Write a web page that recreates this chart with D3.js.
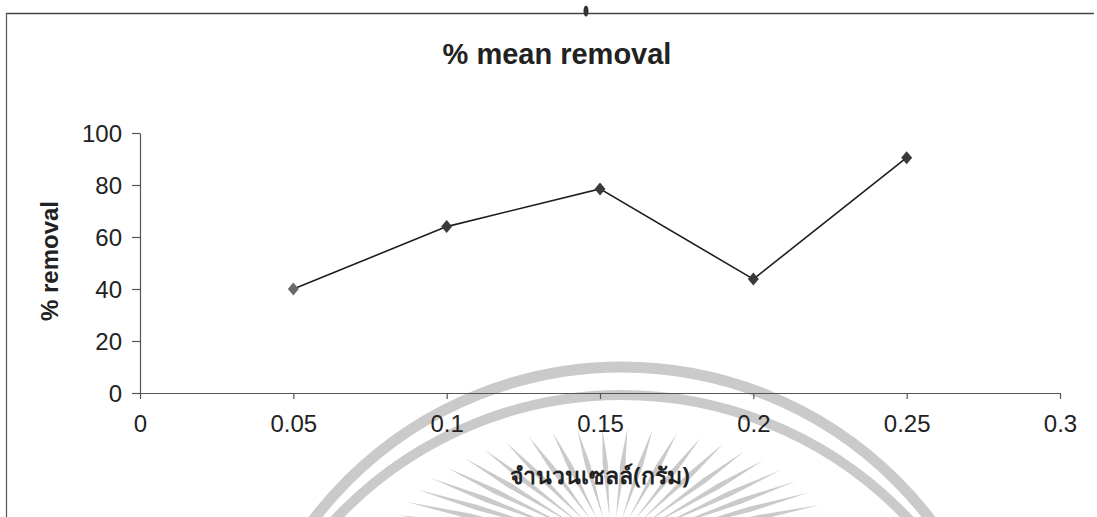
<!DOCTYPE html>
<html>
<head>
<meta charset="utf-8">
<script src="https://cdn.jsdelivr.net/npm/d3@7"></script>
<style>
  html, body { margin: 0; padding: 0; background: #fff; }
  svg { display: block; }
</style>
</head>
<body>
<svg id="chart" width="1097" height="517"></svg>
<script>
// ---- data ----
const cellAmounts = [0.05, 0.1, 0.15, 0.2, 0.25];        // x: จำนวนเซลล์ (กรัม)
const removalPct  = [40, 64, 78.5, 43.8, 90.5];          // y: % removal
const xTickValues = [0, 0.05, 0.1, 0.15, 0.2, 0.25, 0.3];
const yTickValues = [0, 20, 40, 60, 80, 100];
const chartTitle  = "% mean removal";
const yTitle      = "% removal";
const xTitle      = "จำนวนเซลล์(กรัม)";

const svg = d3.select("#chart");
const W = 1097, H = 517;
const font = "'Liberation Sans', Arial, sans-serif";

// ---- faint watermark (scanned seal) ----
const wm = svg.append("g").attr("fill", "none").attr("stroke", "#cacaca");
wm.append("circle").attr("cx", 622).attr("cy", 755).attr("r", 388).attr("stroke-width", 11);
wm.append("circle").attr("cx", 622).attr("cy", 788).attr("r", 393).attr("stroke-width", 10);
const rayAngles = d3.range(-177, -2, 6.5);
const rc = [612, 548], rx = 222, ry = 120;
wm.selectAll("path.ray").data(rayAngles).join("path")
  .attr("class", "ray")
  .attr("stroke", "none").attr("fill", "#cacaca")
  .attr("d", (a) => {
    const r = a * Math.PI / 180, c = Math.cos(r), s = Math.sin(r);
    const x1 = rc[0] + 0.25 * rx * c, y1 = rc[1] + 0.25 * ry * s;
    const x2 = rc[0] + rx * c, y2 = rc[1] + ry * s;
    const dx = x2 - x1, dy = y2 - y1, L = Math.hypot(dx, dy);
    const nx = -dy / L * 2.6, ny = dx / L * 2.6;
    const mx = x1 + dx * 0.6, my = y1 + dy * 0.6;
    return `M${x1},${y1}L${mx + nx},${my + ny}L${x2},${y2}L${mx - nx},${my - ny}Z`;
  });

// ---- frame (scanned page border) ----
svg.append("line").attr("x1", 6).attr("x2", 1094).attr("y1", 13.5).attr("y2", 13.5)
  .attr("stroke", "#444").attr("stroke-width", 1.5);
svg.append("line").attr("x1", 6.5).attr("x2", 6.5).attr("y1", 13).attr("y2", H)
  .attr("stroke", "#555").attr("stroke-width", 1.2);
svg.append("ellipse").attr("cx", 586).attr("cy", 11).attr("rx", 2.5).attr("ry", 5.5).attr("fill", "#333");

// ---- scales ----
const x = d3.scaleLinear().domain([0, 0.3]).range([140, 1060]);
const y = d3.scaleLinear().domain([0, 100]).range([393, 133]);

// ---- axes ----
const axisColor = "#555";
const gy = svg.append("g").attr("transform", `translate(${x(0)},0)`)
  .call(d3.axisLeft(y).tickValues(yTickValues).tickSize(8).tickSizeOuter(0).tickPadding(10).tickFormat(d3.format("d")));
const gx = svg.append("g").attr("transform", `translate(0,${y(0)})`)
  .call(d3.axisBottom(x).tickValues(xTickValues).tickSize(6).tickSizeOuter(0).tickPadding(16)
    .tickFormat((d) => d === 0 ? "0" : String(+d.toFixed(2))));
[gx, gy].forEach((g) => {
  g.select(".domain").attr("stroke", axisColor).attr("stroke-width", 1.2);
  g.selectAll(".tick line").attr("stroke", axisColor).attr("stroke-width", 1.2);
  g.selectAll(".tick text").attr("fill", "#222").style("font-family", font).style("font-size", "24px");
});
gy.selectAll(".tick text").attr("dy", "0.34em");

// ---- series ----
const pts = cellAmounts.map((c, i) => [c, removalPct[i]]);
svg.append("path").datum(pts)
  .attr("fill", "none").attr("stroke", "#1e1e1e").attr("stroke-width", 1.6)
  .attr("d", d3.line().x((d) => x(d[0])).y((d) => y(d[1])));
svg.selectAll("path.marker").data(pts).join("path")
  .attr("class", "marker")
  .attr("d", "M0,-6.5L5.5,0L0,6.5L-5.5,0Z")
  .attr("transform", (d) => `translate(${x(d[0])},${y(d[1])})`)
  .attr("fill", (d, i) => i === 0 ? "#6a6a6a" : "#3a3a3a");

// ---- titles ----
svg.append("text").attr("x", 557).attr("y", 64).attr("text-anchor", "middle")
  .style("font-family", font).style("font-size", "29px").style("font-weight", "bold")
  .attr("fill", "#222").text(chartTitle);
svg.append("text").attr("transform", "translate(58,261) rotate(-90)").attr("text-anchor", "middle")
  .style("font-family", font).style("font-size", "24px").style("font-weight", "bold")
  .attr("fill", "#222").text(yTitle);
svg.append("text").attr("x", 600).attr("y", 484).attr("text-anchor", "middle")
  .style("font-family", "'Noto Sans', 'Liberation Sans', sans-serif").style("font-size", "23px").style("font-weight", "bold")
  .attr("fill", "#222").text(xTitle);
</script>
</body>
</html>
